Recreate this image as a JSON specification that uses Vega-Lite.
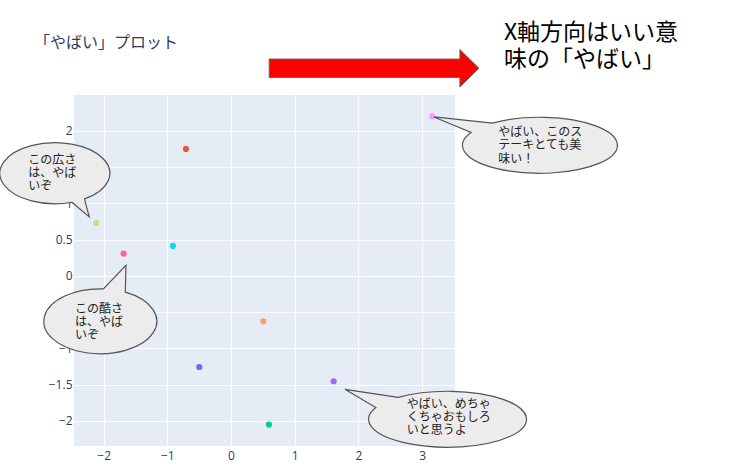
{
  "$schema": "https://vega.github.io/schema/vega-lite/v6.json",
  "width": 381,
  "height": 351,
  "autosize": {"type": "none"},
  "padding": {"left": 74, "top": 95, "right": 286, "bottom": 30},
  "background": "white",
  "title": {
    "text": "「やばい」プロット",
    "anchor": "start",
    "frame": "group",
    "dx": -40,
    "offset": -37,
    "baseline": "middle",
    "font": "Noto Sans CJK JP",
    "fontSize": 16,
    "fontWeight": "normal",
    "color": "#2a3f5f"
  },
  "config": {
    "view": {"fill": "#E5ECF6", "stroke": null},
    "axis": {
      "grid": true,
      "gridColor": "#ffffff",
      "gridWidth": 1,
      "domain": false,
      "ticks": false,
      "title": null,
      "labelColor": "#2a3f5f",
      "labelFont": "Open Sans",
      "labelFontSize": 12
    }
  },
  "datasets": {
    "points": [
      {"trace": "0", "x": -0.499, "y": -1.255},
      {"trace": "1", "x": -0.708, "y": 1.752},
      {"trace": "2", "x": 0.595, "y": -2.05},
      {"trace": "3", "x": 1.61, "y": -1.452},
      {"trace": "4", "x": 0.505, "y": -0.625},
      {"trace": "5", "x": -0.912, "y": 0.414},
      {"trace": "6", "x": -1.686, "y": 0.309},
      {"trace": "7", "x": -2.115, "y": 0.731},
      {"trace": "8", "x": 3.158, "y": 2.203}
    ],
    "bubbles": [
      {"id": "b1", "cx": -2.764, "cy": 1.417, "tx": -3.182, "ty": 1.606, "label": "この広さ\nは、やば\nいぞ"},
      {"id": "b2", "cx": -2.057, "cy": -0.625, "tx": -2.45, "ty": -0.45, "label": "この酷さ\nは、やば\nいぞ"},
      {"id": "b3", "cx": 4.848, "cy": 1.803, "tx": 4.193, "ty": 1.986, "label": "やばい、このス\nテーキとても美\n味い！"},
      {"id": "b4", "cx": 3.396, "cy": -1.977, "tx": 2.756, "ty": -1.76, "label": "やばい、めちゃ\nくちゃおもしろ\nいと思うよ"}
    ],
    "note": [
      {"id": "arrow", "ax": 3.89, "ay": 2.865, "tx": 4.283, "ty": 3.354, "label": "X軸方向はいい意\n味の「やばい」"}
    ]
  },
  "encoding": {},
  "layer": [
    {
      "data": {"name": "points"},
      "mark": {"type": "circle", "size": 38, "opacity": 1},
      "encoding": {
        "x": {"field": "x", "type": "quantitative", "scale": {"domain": [-2.465, 3.515], "nice": false, "zero": false}, "axis": {"values": [-2, -1, 0, 1, 2, 3], "format": "~g", "labelPadding": 4}},
        "y": {"field": "y", "type": "quantitative", "scale": {"domain": [-2.345, 2.496], "nice": false, "zero": false}, "axis": {"values": [-2, -1.5, -1, -0.5, 0, 0.5, 1, 1.5, 2], "format": ".1~f", "labelPadding": 2}},
        "color": {"field": "trace", "type": "nominal", "legend": null, "scale": {"domain": ["0","1","2","3","4","5","6","7","8"], "range": ["#636EFA", "#EF553B", "#00CC96", "#AB63FA", "#FFA15A", "#19D3F3", "#FF6692", "#B6E880", "#FF97FF"]}}
      }
    },
    {
      "data": {"name": "bubbles"},
      "mark": {"type": "point", "filled": true, "fill": "#ececec", "stroke": "#555555", "strokeWidth": 1.2, "opacity": 1, "fillOpacity": 1, "strokeOpacity": 1, "size": 4, "clip": false},
      "encoding": {
        "x": {"field": "cx", "type": "quantitative"},
        "y": {"field": "cy", "type": "quantitative"},
        "shape": {"field": "id", "type": "nominal", "legend": null, "scale": {"domain": ["b1", "b2", "b3", "b4"], "range": [
          "M29.5,25.7L34.3,43.7L16.9,29A55,30.5,0,1,1,29.5,25.7Z",
          "M25.3,-29.1L26,-56L3.4,-32.4A56.5,32.5,0,1,0,25.3,-29.1Z",
          "M-47.5,-22.1L-106,-28.3L-68.9,-12.8A77.5,28,0,1,0,-47.5,-22.1Z",
          "M-49.3,-21.9L-102.5,-30L-71.6,-11.8A79,28,0,1,0,-49.3,-21.9Z"
        ]}}
      }
    },
    {
      "data": {"name": "bubbles"},
      "mark": {"type": "text", "align": "left", "baseline": "middle", "lineBreak": "\n", "font": "Noto Sans CJK JP", "fontSize": 12, "lineHeight": 13.3, "color": "#222222", "clip": false},
      "encoding": {
        "x": {"field": "tx", "type": "quantitative"},
        "y": {"field": "ty", "type": "quantitative"},
        "text": {"field": "label", "type": "nominal"}
      }
    },
    {
      "data": {"name": "note"},
      "mark": {"type": "point", "filled": true, "fill": "#ff0000", "stroke": "#666666", "strokeWidth": 1, "opacity": 1, "fillOpacity": 1, "strokeOpacity": 1, "size": 4, "clip": false},
      "encoding": {
        "x": {"field": "ax", "type": "quantitative"},
        "y": {"field": "ay", "type": "quantitative"},
        "shape": {"field": "id", "type": "nominal", "legend": null, "scale": {"domain": ["arrow"], "range": ["M0,0L-19,-18.7L-19,-9.2L-209.7,-9.2L-209.7,9.2L-19,9.2L-19,18.7Z"]}}
      }
    },
    {
      "data": {"name": "note"},
      "mark": {"type": "text", "align": "left", "baseline": "middle", "lineBreak": "\n", "font": "Noto Sans CJK JP", "fontSize": 23, "lineHeight": 27, "color": "#000000", "clip": false},
      "encoding": {
        "x": {"field": "tx", "type": "quantitative"},
        "y": {"field": "ty", "type": "quantitative"},
        "text": {"field": "label", "type": "nominal"}
      }
    }
  ],
  "resolve": {"scale": {"shape": "independent"}}
}
